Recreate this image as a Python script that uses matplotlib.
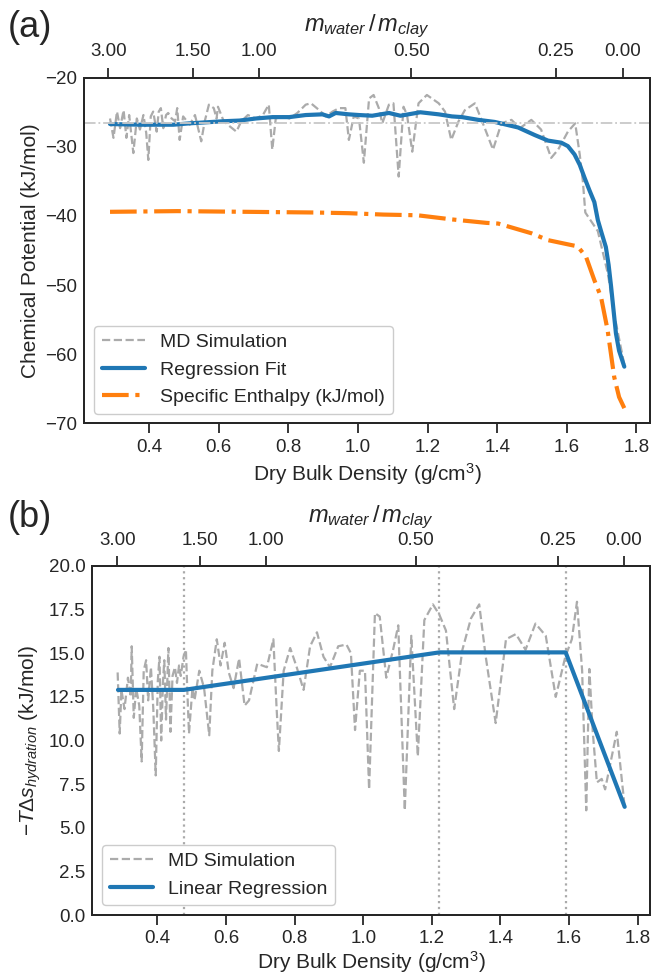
import matplotlib
matplotlib.use("Agg")
import matplotlib.pyplot as plt
import seaborn as sns
import numpy as np

# ---- panel (a): chemical potential ----
md_a_x = [0.288, 0.298, 0.308, 0.317, 0.327, 0.335, 0.343, 0.355, 0.365, 0.374,
          0.384, 0.392, 0.398, 0.405, 0.412, 0.422, 0.428, 0.434, 0.441, 0.449,
          0.455, 0.465, 0.475, 0.481, 0.488, 0.498, 0.517, 0.532, 0.550, 0.560,
          0.572, 0.586, 0.594, 0.598, 0.613, 0.626, 0.651, 0.665, 0.684, 0.707,
          0.727, 0.744, 0.754, 0.764, 0.784, 0.803, 0.826, 0.850, 0.865, 0.889,
          0.908, 0.927, 0.946, 0.964, 0.974, 0.988, 1.003, 1.017, 1.032, 1.045,
          1.060, 1.070, 1.089, 1.102, 1.117, 1.131, 1.141, 1.156, 1.174, 1.198,
          1.232, 1.250, 1.268, 1.289, 1.307, 1.336, 1.355, 1.388, 1.412, 1.441,
          1.465, 1.498, 1.526, 1.555, 1.575, 1.603, 1.624, 1.637, 1.646, 1.653,
          1.689, 1.718, 1.736, 1.751, 1.765]
md_a_y = [-25.9, -28.7, -24.9, -27.3, -24.7, -28.7, -25.4, -30.9, -25.9, -27.5,
          -25.4, -28.0, -31.9, -25.6, -24.9, -27.8, -24.9, -24.4, -27.3, -25.4,
          -25.1, -25.9, -26.3, -24.4, -29.0, -25.6, -26.8, -25.4, -29.2, -26.3,
          -23.9, -24.4, -25.9, -24.2, -26.1, -26.8, -27.8, -26.3, -25.4, -25.9,
          -25.4, -23.9, -30.4, -25.9, -25.6, -25.9, -25.1, -23.9, -23.7, -24.7,
          -25.6, -24.9, -24.4, -24.4, -29.0, -25.6, -25.9, -32.3, -23.0, -22.5,
          -24.4, -26.6, -23.9, -23.7, -34.3, -24.2, -25.4, -30.7, -23.7, -22.5,
          -23.7, -24.9, -29.0, -26.3, -24.7, -23.7, -26.1, -30.4, -26.6, -26.1,
          -27.3, -26.1, -27.5, -31.6, -30.4, -27.8, -26.6, -31.1, -35.0, -39.5,
          -42.2, -48.4, -54.2, -58.0, -61.5]

fit_a_x = [0.288, 0.374, 0.470, 0.517, 0.613, 0.660, 0.707, 0.755, 0.803, 0.850,
           0.898, 0.917, 0.936, 0.974, 1.003, 1.041, 1.089, 1.122, 1.179, 1.232,
           1.270, 1.299, 1.346, 1.393, 1.460, 1.508, 1.546, 1.584, 1.603, 1.622,
           1.637, 1.651, 1.665, 1.679, 1.689, 1.700, 1.712, 1.720, 1.727, 1.734,
           1.741, 1.750, 1.765]
fit_a_y = [-26.7, -26.8, -26.8, -26.6, -26.3, -26.2, -25.9, -25.7, -25.7, -25.4,
           -25.3, -25.6, -25.1, -25.3, -25.4, -25.5, -25.1, -25.5, -25.0, -25.3,
           -25.6, -25.7, -26.1, -26.4, -27.2, -28.3, -29.1, -29.4, -29.9, -31.1,
           -32.6, -34.5, -36.3, -38.0, -40.6, -42.5, -44.5, -47.1, -50.2, -53.6,
           -57.0, -59.5, -61.8]

enth_x = [0.288, 0.481, 0.679, 0.876, 0.974, 1.073, 1.171, 1.270, 1.369, 1.403,
          1.498, 1.546, 1.593, 1.631, 1.655, 1.679, 1.698, 1.717, 1.736, 1.750,
          1.765]
enth_y = [-39.4, -39.3, -39.4, -39.5, -39.6, -39.8, -39.9, -40.5, -41.0, -41.1,
          -42.5, -43.5, -44.0, -44.4, -45.9, -49.3, -51.7, -56.5, -63.3, -66.2,
          -67.8]

ref_level_a = -26.6

# top axis: water/clay mass ratio at the matching dry bulk density
top_ticks = [0.283, 0.525, 0.717, 1.153, 1.568, 1.760]
top_labels = ["3.00", "1.50", "1.00", "0.50", "0.25", "0.00"]

# ---- panel (b): entropy term ----
md_b_x = [0.284, 0.290, 0.295, 0.304, 0.314, 0.322, 0.325, 0.331, 0.338, 0.347,
          0.354, 0.360, 0.367, 0.373, 0.381, 0.388, 0.395, 0.401, 0.406, 0.411,
          0.416, 0.420, 0.425, 0.432, 0.438, 0.444, 0.451, 0.457, 0.463, 0.468,
          0.476, 0.483, 0.487, 0.492, 0.502, 0.508, 0.522, 0.536, 0.551, 0.560,
          0.573, 0.584, 0.596, 0.608, 0.622, 0.638, 0.654, 0.667, 0.691, 0.719,
          0.738, 0.747, 0.754, 0.768, 0.787, 0.806, 0.826, 0.845, 0.865, 0.884,
          0.903, 0.927, 0.951, 0.964, 0.976, 0.990, 1.005, 1.017, 1.034, 1.048,
          1.067, 1.087, 1.102, 1.121, 1.140, 1.159, 1.178, 1.203, 1.222, 1.241,
          1.265, 1.289, 1.314, 1.338, 1.357, 1.386, 1.416, 1.445, 1.473, 1.502,
          1.532, 1.561, 1.589, 1.608, 1.623, 1.638, 1.650, 1.659, 1.669, 1.681,
          1.695, 1.705, 1.739, 1.762]
md_b_y = [13.9, 10.4, 12.9, 11.8, 13.6, 12.5, 15.4, 11.3, 13.0, 12.0,
          8.8, 14.0, 14.6, 12.3, 14.2, 11.8, 8.0, 13.4, 14.8, 10.0,
          13.3, 14.6, 11.2, 15.3, 10.5, 13.7, 14.2, 13.3, 14.3, 13.7,
          14.8, 15.2, 12.9, 10.4, 13.0, 12.3, 14.0, 13.0, 10.3, 14.0,
          15.8, 14.3, 15.6, 13.9, 13.0, 14.7, 12.0, 12.3, 14.4, 14.2,
          15.8, 12.0, 9.4, 14.0, 15.3, 14.2, 12.9, 15.4, 16.2, 14.8,
          14.2, 15.4, 15.5, 15.0, 10.6, 14.0, 14.0, 7.2, 17.3, 17.1,
          13.6, 15.2, 16.6, 6.0, 16.0, 9.1, 16.9, 17.8, 17.2, 16.3,
          11.8, 15.2, 17.0, 17.8, 14.8, 11.0, 15.8, 16.1, 15.2, 16.7,
          16.0, 12.5, 14.8, 15.8, 17.95, 14.0, 6.0, 14.1, 10.5, 7.6,
          7.8, 7.2, 10.5, 6.2]

lin_b_x = [0.285, 0.477, 1.222, 1.590, 1.762]
lin_b_y = [12.9, 12.9, 15.05, 15.05, 6.2]

breaks_b = [0.477, 1.222, 1.590]

sns.set_style("ticks")
plt.rcParams['font.family'] = ['Liberation Sans', 'DejaVu Sans']
plt.rcParams['font.size'] = 15
plt.rcParams['mathtext.fontset'] = 'custom'
plt.rcParams['mathtext.it'] = 'Liberation Sans:italic'
plt.rcParams['mathtext.rm'] = 'Liberation Sans'
plt.rcParams['xtick.labelsize'] = 13.5
plt.rcParams['ytick.labelsize'] = 13.5

fig = plt.figure(figsize=(6.55, 9.75), dpi=100)
ax1 = fig.add_axes([0.1287, 0.5658, 0.8637, 0.3545])
ax2 = fig.add_axes([0.1409, 0.0615, 0.8515, 0.358])

md_color = '#ababab'


def style_axes(ax, top):
    ax.tick_params(axis='x', length=7, width=1.3, pad=4, color='#262626')
    ax.tick_params(axis='y', length=0, pad=5)
    top.tick_params(axis='x', length=7.5, width=1.3, pad=5, color='#262626')
    for a in (ax, top):
        for s in a.spines.values():
            s.set_color('#262626')
            s.set_linewidth(1.4)


# (a)
ax1.plot(md_a_x, md_a_y, '--', color=md_color, lw=1.6, label='MD Simulation')
ax1.plot(fit_a_x, fit_a_y, '-', color='#1f77b4', lw=3, label='Regression Fit')
ax1.plot(enth_x, enth_y, '-.', color='#ff7f0e', lw=3, label='Specific Enthalpy (kJ/mol)')
ax1.axhline(ref_level_a, color='#c8c8c8', ls='-.', lw=1.3)
ax1.set_ylim(-70, -20)
ax1.set_xticks([0.4, 0.6, 0.8, 1.0, 1.2, 1.4, 1.6, 1.8])
ax1.set_xlabel('Dry Bulk Density (g/cm$^3$)')
ax1.set_ylabel('Chemical Potential (kJ/mol)')
ax1.legend(loc='lower left', fontsize=14, framealpha=1, handlelength=2.2)

top1 = ax1.twiny()
top1.set_xlim(ax1.get_xlim())
top1.set_xticks(top_ticks)
top1.set_xticklabels(top_labels)
top1.set_xlabel('$m_{water}\\,/\\,m_{clay}$', fontsize=17, labelpad=9)
style_axes(ax1, top1)

# (b)
for xb in breaks_b:
    ax2.axvline(xb, color='#aaaaaa', ls=':', lw=1.6)
ax2.plot(md_b_x, md_b_y, '--', color=md_color, lw=1.6, label='MD Simulation')
ax2.plot(lin_b_x, lin_b_y, '-', color='#1f77b4', lw=3, label='Linear Regression')
ax2.set_ylim(0, 20)
ax2.set_yticks(np.arange(0, 20.1, 2.5))
ax2.set_xticks([0.4, 0.6, 0.8, 1.0, 1.2, 1.4, 1.6, 1.8])
ax2.set_xlabel('Dry Bulk Density (g/cm$^3$)', labelpad=1)
ax2.set_ylabel('$-T\\Delta s_{hydration}$ (kJ/mol)')
ax2.legend(loc='lower left', fontsize=14, framealpha=1, handlelength=2.2)

top2 = ax2.twiny()
top2.set_xlim(ax2.get_xlim())
top2.set_xticks(top_ticks)
top2.set_xticklabels(top_labels)
top2.set_xlabel('$m_{water}\\,/\\,m_{clay}$', fontsize=17, labelpad=7)
style_axes(ax2, top2)

fig.text(0.012, 0.99, '(a)', fontsize=26, va='top', ha='left')
fig.text(0.012, 0.487, '(b)', fontsize=26, va='top', ha='left')

fig.savefig('out.png', dpi=100)
